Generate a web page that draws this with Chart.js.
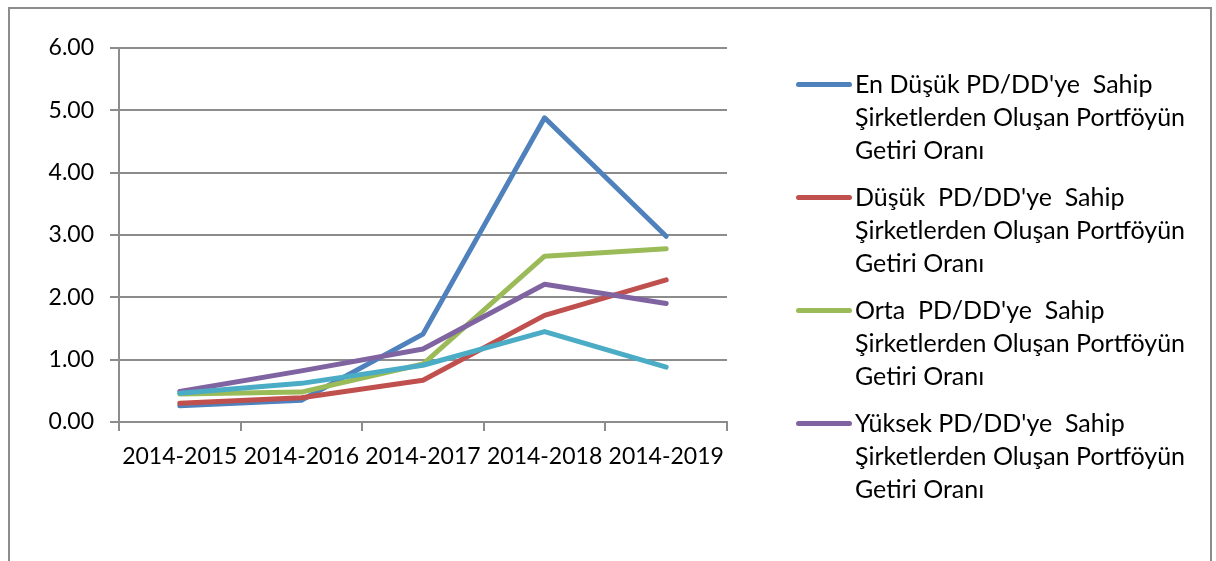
<!DOCTYPE html>
<html>
<head>
<meta charset="utf-8">
<script src="https://cdn.jsdelivr.net/npm/chart.js@4.4.1/dist/chart.umd.min.js"></script>
<style>
    html, body { margin: 0; padding: 0; background: #fff; overflow: hidden; }
    #wrap { position: relative; width: 1216px; height: 561px; }
    #frame {
        position: absolute; left: 8px; top: 7px; width: 1200px; height: 600px;
        border: 2px solid #8c8c8c; border-bottom: none;
    }
    #chart { position: absolute; left: 0; top: 0; }
    #legend {
        position: absolute; left: 796px; top: 67px;
        font-family: Lato, sans-serif; font-size: 25px; color: #000;
    }
    .item { display: flex; align-items: flex-start; margin-bottom: 14px; }
    .swatch { width: 56px; height: 5px; border-radius: 3px; margin-top: 15px; margin-right: 3px; }
    .txt { line-height: 33px; white-space: pre; }
</style>
</head>
<body>
<div id="wrap">
    <div id="frame"></div>
    <canvas id="chart" width="1216" height="561"></canvas>
    <div id="legend"></div>
</div>
<script>
// periods on the x axis
var periods = ['2014-2015', '2014-2016', '2014-2017', '2014-2018', '2014-2019'];

// portfolio returns
var enDusuk = [0.26, 0.35, 1.41, 4.88, 2.98];
var dusuk = [0.30, 0.39, 0.67, 1.71, 2.28];
var orta = [0.45, 0.48, 0.93, 2.66, 2.78];
var yuksek = [0.49, 0.82, 1.17, 2.21, 1.90];
var diger = [0.46, 0.62, 0.91, 1.45, 0.88];

var seriesNames = [
    "En Düşük PD/DD'ye  Sahip\nŞirketlerden Oluşan Portföyün\nGetiri Oranı",
    "Düşük  PD/DD'ye  Sahip\nŞirketlerden Oluşan Portföyün\nGetiri Oranı",
    "Orta  PD/DD'ye  Sahip\nŞirketlerden Oluşan Portföyün\nGetiri Oranı",
    "Yüksek PD/DD'ye  Sahip\nŞirketlerden Oluşan Portföyün\nGetiri Oranı",
    "Şirketlerden Oluşan Portföyün Getiri Oranı"
];
var seriesColors = ['#4f81bd', '#c0504d', '#9bbb59', '#8064a2', '#4bacc6'];
var seriesData = [enDusuk, dusuk, orta, yuksek, diger];

var gridColor = '#8c8c8c';

var datasets = [];
for (var i = 0; i < seriesData.length; i++) {
    datasets.push({
        label: seriesNames[i],
        data: seriesData[i],
        borderColor: seriesColors[i],
        backgroundColor: seriesColors[i],
        borderWidth: 5,
        borderCapStyle: 'round',
        borderJoinStyle: 'round',
        pointRadius: 0,
        tension: 0,
        order: seriesData.length - i   // later series on top, like the original
    });
}

new Chart(document.getElementById('chart').getContext('2d'), {
    type: 'line',
    data: { labels: periods, datasets: datasets },
    options: {
        responsive: false,
        animation: false,
        layout: { padding: { left: 0, top: 48, right: 489, bottom: 79 } },
        plugins: {
            legend: { display: false },
            tooltip: { enabled: false }
        },
        scales: {
            x: {
                offset: true,
                grid: { offset: true, drawOnChartArea: false, drawTicks: true, tickLength: 9, color: gridColor, lineWidth: 2 },
                border: { display: true, color: gridColor, width: 2 },
                ticks: { color: '#000', padding: 12, maxRotation: 0, autoSkip: false, font: { family: 'Lato', size: 23 } },
                afterFit: function (scale) { scale.height = 60; }
            },
            y: {
                min: 0,
                max: 6,
                grid: { color: gridColor, lineWidth: 2, tickLength: 9 },
                border: { display: true, color: gridColor, width: 2 },
                ticks: {
                    stepSize: 1,
                    color: '#000',
                    padding: 16,
                    font: { family: 'Lato', size: 23 },
                    callback: function (v) { return v.toFixed(2); }
                },
                afterFit: function (scale) { scale.width = 119; }
            }
        }
    }
});

// legend: only the first four series fit in the frame
var legend = document.getElementById('legend');
for (var j = 0; j < 4; j++) {
    var item = document.createElement('div');
    item.className = 'item';
    var sw = document.createElement('div');
    sw.className = 'swatch';
    sw.style.background = seriesColors[j];
    var tx = document.createElement('div');
    tx.className = 'txt';
    tx.textContent = seriesNames[j];
    item.appendChild(sw);
    item.appendChild(tx);
    legend.appendChild(item);
}
</script>
</body>
</html>
